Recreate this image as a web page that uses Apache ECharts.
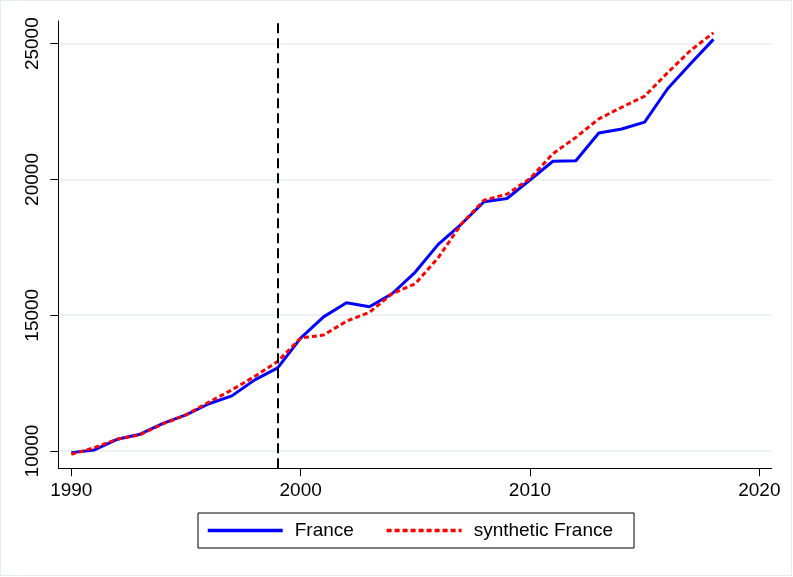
<!DOCTYPE html>
<html>
<head>
<meta charset="utf-8">
<script src="https://cdn.jsdelivr.net/npm/echarts@6/dist/echarts.min.js"></script>
<style>html,body{margin:0;padding:0;background:#fff}#c{width:793px;height:577px}</style>
</head>
<body>
<div id="c"></div>
<script>
var years = [1990,1991,1992,1993,1994,1995,1996,1997,1998,1999,2000,2001,2002,2003,2004,2005,2006,2007,2008,2009,2010,2011,2012,2013,2014,2015,2016,2017,2018];
var france = [9940,10040,10430,10620,11020,11330,11740,12030,12620,13060,14160,14940,15460,15310,15800,16590,17610,18350,19180,19300,19980,20670,20690,21710,21860,22110,23340,24260,25160];
var synthetic = [9880,10120,10430,10600,11000,11330,11800,12250,12750,13300,14160,14270,14780,15110,15800,16160,17120,18350,19240,19460,20030,20950,21550,22230,22660,23070,23930,24750,25400];
var xTicks = [1990,2000,2010,2020];
var yTicks = [10000,15000,20000,25000];
var treatYear = 1999;
var seriesNames = ['France','synthetic France'];

function pairs(xs, ys){ return xs.map(function(x,i){ return [x, ys[i]]; }); }

var chart = echarts.init(document.getElementById('c'), null, {renderer:'canvas'});
var font = 'Liberation Sans, Arial, sans-serif';
chart.setOption({
  animation:false,
  backgroundColor:'#ffffff',
  textStyle:{fontFamily:font},
  graphic:[{type:'rect', shape:{x:0.5,y:0.5,width:791,height:575}, style:{fill:'none', stroke:'#e4eaee', lineWidth:1}, silent:true}],
  grid:{left:58.3, right:21.3, top:21, bottom:108.7, containLabel:false},
  xAxis:{
    type:'value', min:1989.433, max:2020.54,
    axisLine:{show:true, lineStyle:{color:'#000', width:1}},
    axisTick:{show:true, length:8, customValues:xTicks, lineStyle:{color:'#000'}},
    axisLabel:{customValues:xTicks, fontSize:19, color:'#000', margin:13, fontFamily:font,
      formatter:function(v){ return String(Math.round(v)); }},
    splitLine:{show:false}
  },
  yAxis:{
    type:'value', min:9363, max:25836,
    axisLine:{show:true, lineStyle:{color:'#000', width:1}},
    axisTick:{show:true, length:8, customValues:yTicks, lineStyle:{color:'#000'}},
    axisLabel:{customValues:yTicks, fontSize:19, color:'#000', margin:16, rotate:90, fontFamily:font,
      formatter:function(v){ return String(Math.round(v)); }},
    splitLine:{show:true, lineStyle:{color:'#e8eef1', width:1.5}}
  },
  legend:{
    data:seriesNames, left:198, top:513,
    padding:[8,21,8,8], borderColor:'#000', borderWidth:1,
    itemWidth:75, itemHeight:18, itemGap:31,
    itemStyle:{opacity:0},
    lineStyle:{width:3.5},
    textStyle:{fontSize:19, color:'#000', fontFamily:font, padding:[0,0,0,7]}
  },
  series:[
    {name:seriesNames[0], type:'line', data:pairs(years, france), showSymbol:false, symbol:'none',
     lineStyle:{color:'#0000ff', width:3}, itemStyle:{color:'#0000ff'},
     markLine:{silent:true, symbol:['none','none'], label:{show:false},
       lineStyle:{color:'#000', type:[10,5], width:2},
       data:[{xAxis:treatYear}]}},
    {name:seriesNames[1], type:'line', data:pairs(years, synthetic), showSymbol:false, symbol:'none',
     lineStyle:{color:'#ff0000', width:3, type:[5,3]}, itemStyle:{color:'#ff0000'}}
  ]
});
</script>
</body>
</html>
